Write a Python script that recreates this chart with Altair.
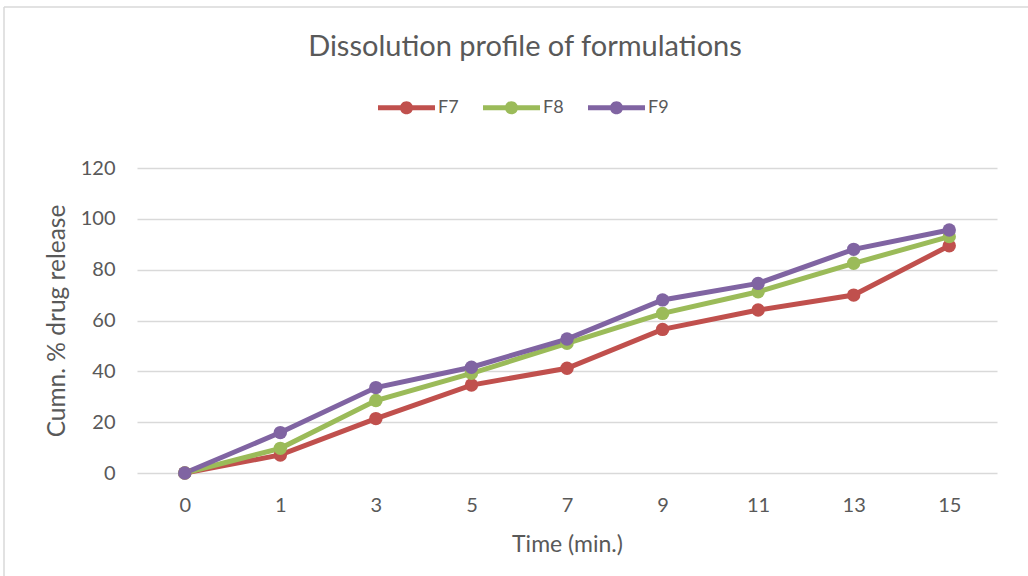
import altair as alt
import pandas as pd

times = ["0", "1", "3", "5", "7", "9", "11", "13", "15"]
f7 = [0, 7.1, 21.4, 34.6, 41.2, 56.5, 64.1, 70.0, 89.4]
f8 = [0, 9.7, 28.5, 39.2, 51.0, 62.8, 71.3, 82.5, 93.0]
f9 = [0, 15.9, 33.6, 41.6, 52.7, 68.1, 74.6, 88.0, 95.6]
series = ["F7", "F8", "F9"]
colors = ["#C0504D", "#9BBB59", "#8064A2"]

rows = []
for name, vals in zip(series, [f7, f8, f9]):
    for t, v in zip(times, vals):
        rows.append({"Time": t, "Value": v, "Series": name})
df = pd.DataFrame(rows)

TEXT = "#595959"
GRID = "#D9D9D9"

legend_path = ("M-1,-0.09 L1,-0.09 L1,0.09 L-1,0.09 Z "
               "M-0.23,0 A0.23,0.23 0 1,1 0.23,0 A0.23,0.23 0 1,1 -0.23,0 Z")

x = alt.X("Time:O", sort=times, title="Time (min.)",
          axis=alt.Axis(labelAngle=0, grid=False, domain=False, ticks=False,
                        labelPadding=22, titlePadding=18, labelFontSize=20,
                        titleFontSize=23, labelColor=TEXT, titleColor=TEXT,
                        titleFontWeight="normal"))
y = alt.Y("Value:Q", title="Cumn. % drug release",
          scale=alt.Scale(domain=[0, 120], nice=False),
          axis=alt.Axis(values=[0, 20, 40, 60, 80, 100, 120], grid=True,
                        gridColor=GRID, gridWidth=1.3, domain=False, ticks=False,
                        labelPadding=22, titlePadding=11, labelFontSize=20,
                        titleFontSize=24.5, labelColor=TEXT, titleColor=TEXT,
                        titleFontWeight="normal"))
legend = alt.Legend(title=None, orient="none", direction="horizontal",
                    legendX=241, legendY=-89,
                    symbolType=legend_path, symbolSize=3249,
                    symbolStrokeWidth=0, labelFontSize=18,
                    labelColor=TEXT, labelOffset=3, columnPadding=24)
color = alt.Color("Series:N", scale=alt.Scale(domain=series, range=colors),
                  legend=legend)

base = alt.Chart(df)
lines = base.mark_line(strokeWidth=5).encode(x=x, y=y, color=color)
points = base.mark_point(filled=True, size=180, opacity=1).encode(x=x, y=y, color=color)

frame = alt.Chart(alt.Data(values=[{}])).mark_rule(color=GRID, strokeWidth=1.5)
left_border = frame.encode(x=alt.value(-133), y=alt.value(-161), y2=alt.value(408))
top_border = frame.encode(x=alt.value(-133), x2=alt.value(891), y=alt.value(-161))

chart = alt.layer(left_border, top_border, lines, points).properties(
    width=860, height=305,
    autosize=alt.AutoSizeParams(type="none"),
    padding={"left": 137, "top": 168, "right": 31, "bottom": 103},
    title=alt.TitleParams("Dissolution profile of formulations", fontSize=29,
                          fontWeight="normal", color=TEXT, anchor="middle",
                          offset=0, dy=56, dx=-42),
).configure(font="Lato").configure_view(stroke=None)

chart.save("out.html", embed_options={"renderer": "svg", "actions": False})
